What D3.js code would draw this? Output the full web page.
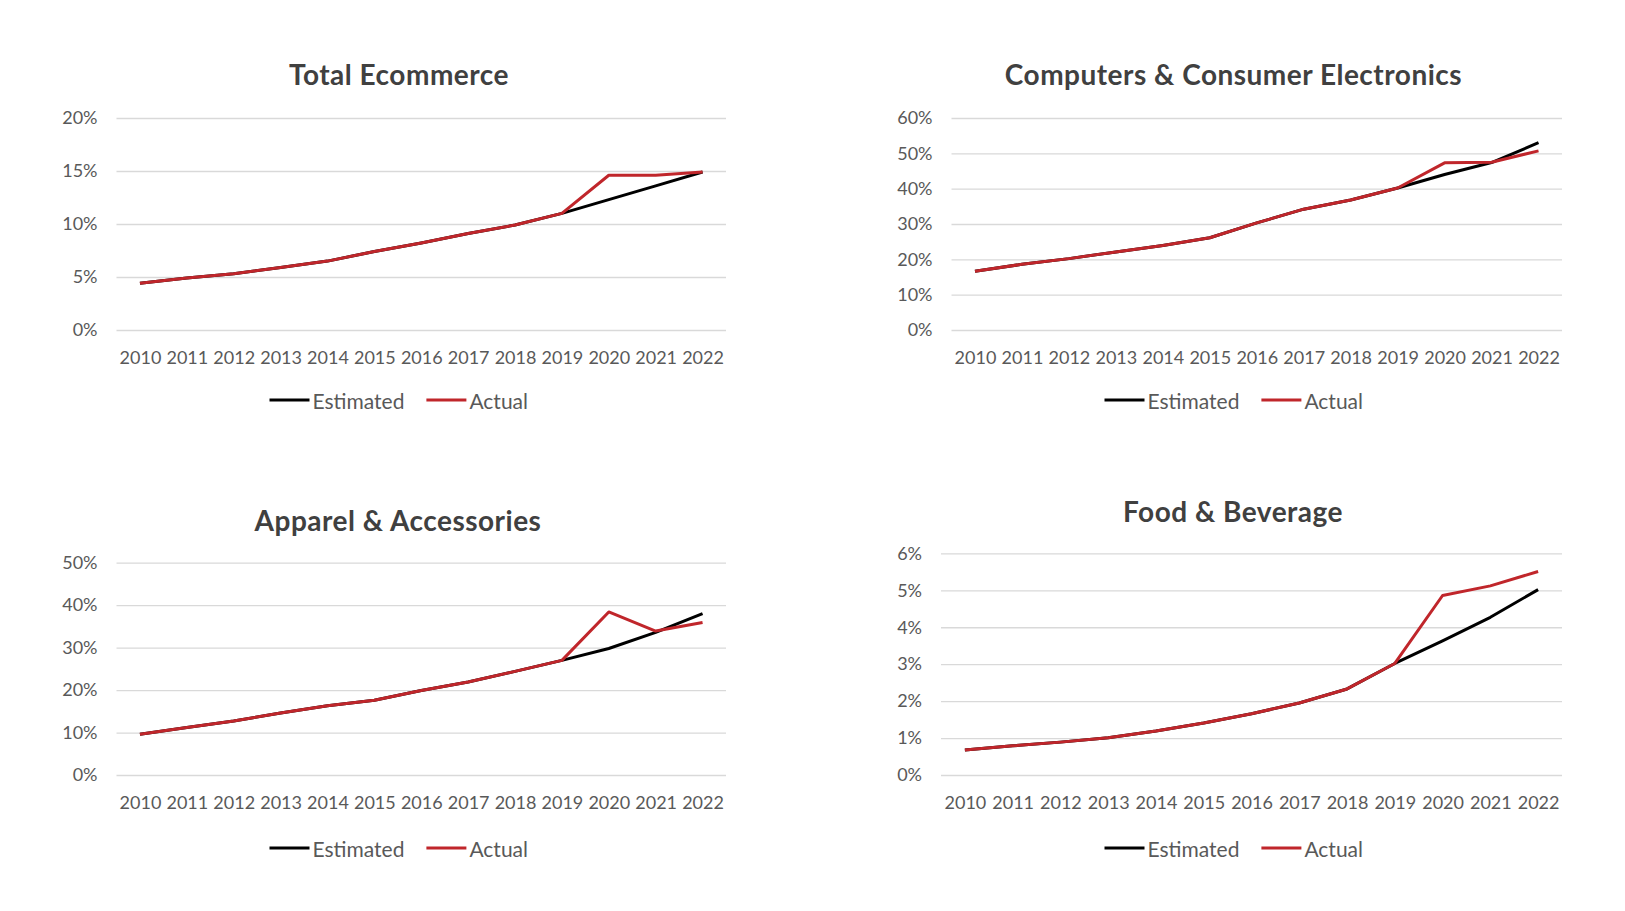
<!DOCTYPE html>
<html>
<head>
<meta charset="utf-8">
<script src="https://cdn.jsdelivr.net/npm/d3@7"></script>
<style>
  body { margin: 0; background: #fff; }
  text { font-family: Lato, "Open Sans", sans-serif; }
</style>
</head>
<body>
<svg width="1625" height="911"></svg>
<script>
const svg = d3.select('svg');

const years = ['2010','2011','2012','2013','2014','2015','2016','2017','2018','2019','2020','2021','2022'];

// share of sales online, percent
const totalEstimated = [4.4, 4.9, 5.3, 5.9, 6.5, 7.4, 8.2, 9.1, 9.9, 11.0, 12.3, 13.6, 14.9];
const totalActual    = [4.4, 4.9, 5.3, 5.9, 6.5, 7.4, 8.2, 9.1, 9.9, 11.0, 14.6, 14.6, 14.9];

const compEstimated = [16.6, 18.6, 20.2, 22.1, 23.9, 26.1, 30.3, 34.2, 36.8, 40.2, 44.0, 47.4, 53.0];
const compActual    = [16.6, 18.6, 20.2, 22.1, 23.9, 26.1, 30.3, 34.2, 36.8, 40.2, 47.3, 47.5, 50.7];

const apparelEstimated = [9.6, 11.2, 12.7, 14.6, 16.3, 17.6, 19.9, 21.9, 24.4, 27.0, 29.8, 33.6, 38.0];
const apparelActual    = [9.6, 11.2, 12.7, 14.6, 16.3, 17.6, 19.9, 21.9, 24.4, 27.0, 38.4, 33.9, 35.9];

const foodEstimated = [0.68, 0.79, 0.89, 1.01, 1.19, 1.41, 1.66, 1.95, 2.33, 3.02, 3.63, 4.27, 5.02];
const foodActual    = [0.68, 0.79, 0.89, 1.01, 1.19, 1.41, 1.66, 1.95, 2.33, 3.02, 4.86, 5.12, 5.51];

const totalTicks = [0, 5, 10, 15, 20];
const compTicks = [0, 10, 20, 30, 40, 50, 60];
const apparelTicks = [0, 10, 20, 30, 40, 50];
const foodTicks = [0, 1, 2, 3, 4, 5, 6];

const seriesNames = ['Estimated', 'Actual'];
const colors = { Estimated: '#000000', Actual: '#c0262b' };

const panels = [
  { title: 'Total Ecommerce', est: totalEstimated, act: totalActual, ticks: totalTicks,
    left: 116.5, right: 726, top: 118, bottom: 330,
    titleX: 399, titleY: 74, labelY: 357, legendX: 269.5, legendY: 400 },
  { title: 'Computers & Consumer Electronics', est: compEstimated, act: compActual, ticks: compTicks,
    left: 951.5, right: 1562, top: 118, bottom: 330,
    titleX: 1233.5, titleY: 74, labelY: 357, legendX: 1104.5, legendY: 400 },
  { title: 'Apparel & Accessories', est: apparelEstimated, act: apparelActual, ticks: apparelTicks,
    left: 116.5, right: 726, top: 562.7, bottom: 775,
    titleX: 398, titleY: 520, labelY: 802, legendX: 269.5, legendY: 848 },
  { title: 'Food & Beverage', est: foodEstimated, act: foodActual, ticks: foodTicks,
    left: 941, right: 1562, top: 553.4, bottom: 775,
    titleX: 1233, titleY: 511, labelY: 802, legendX: 1104.5, legendY: 848 }
];

const drawPanel = p => {
  const g = svg.append('g');

  const xScale = d3.scalePoint()
    .domain(years)
    .range([p.left, p.right])
    .padding(0.5);

  const yScale = d3.scaleLinear()
    .domain([0, d3.max(p.ticks)])
    .range([p.bottom, p.top]);

  // title
  g.append('text')
    .attr('x', p.titleX)
    .attr('y', p.titleY)
    .attr('text-anchor', 'middle')
    .attr('dominant-baseline', 'central')
    .attr('font-size', 28)
    .attr('font-weight', 'bold')
    .attr('letter-spacing', 0.5)
    .attr('fill', '#404040')
    .text(p.title);

  // y axis: gridlines + labels
  const yAxis = d3.axisLeft(yScale)
    .tickValues(p.ticks)
    .tickSize(-(p.right - p.left))
    .tickPadding(19)
    .tickFormat(d => d + '%');
  const ya = g.append('g')
    .attr('transform', `translate(${p.left},0)`)
    .call(yAxis);
  ya.select('.domain').remove();
  ya.selectAll('line').attr('stroke', '#d9d9d9').attr('stroke-width', 1.3);
  ya.selectAll('text')
    .attr('font-size', 18)
    .attr('fill', '#595959');

  // x axis labels
  const xAxis = d3.axisBottom(xScale).tickSize(0).tickPadding(0);
  const xa = g.append('g')
    .attr('transform', `translate(0,${p.labelY})`)
    .call(xAxis);
  xa.select('.domain').remove();
  xa.selectAll('text')
    .attr('dy', null)
    .attr('y', 0)
    .attr('dominant-baseline', 'central')
    .attr('font-size', 18)
    .attr('fill', '#595959');

  // lines
  const line = d3.line()
    .x((d, i) => xScale(years[i]))
    .y(d => yScale(d));

  g.append('path')
    .datum(p.est)
    .attr('d', line)
    .attr('fill', 'none')
    .attr('stroke', colors.Estimated)
    .attr('stroke-width', 3)
    .attr('stroke-linejoin', 'round');
  g.append('path')
    .datum(p.act)
    .attr('d', line)
    .attr('fill', 'none')
    .attr('stroke', colors.Actual)
    .attr('stroke-width', 3)
    .attr('stroke-linejoin', 'round');

  // legend
  const lg = g.append('g').attr('transform', `translate(${p.legendX},${p.legendY})`);
  let offset = 0;
  seriesNames.forEach(name => {
    lg.append('line')
      .attr('x1', offset).attr('x2', offset + 40)
      .attr('y1', 0).attr('y2', 0)
      .attr('stroke', colors[name])
      .attr('stroke-width', 3);
    const t = lg.append('text')
      .attr('x', offset + 43)
      .attr('y', 0)
      .attr('dominant-baseline', 'central')
      .attr('font-size', 21)
      .attr('fill', '#595959')
      .text(name);
    offset += 43 + t.node().getComputedTextLength() + 22;
  });
};

panels.forEach(drawPanel);
</script>
</body>
</html>
